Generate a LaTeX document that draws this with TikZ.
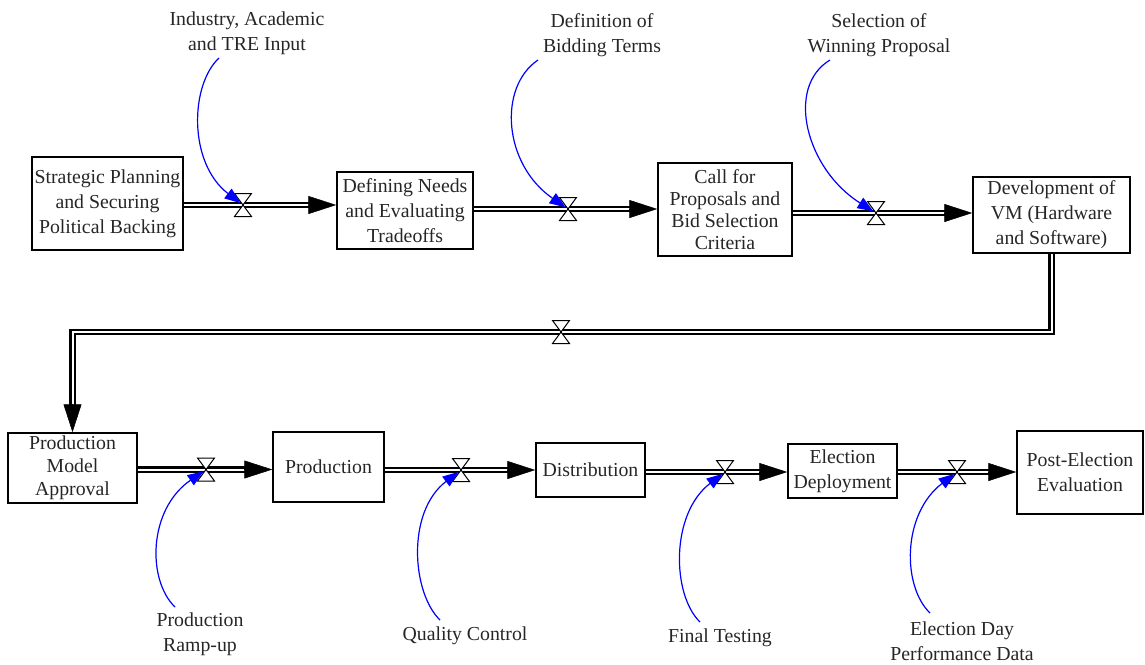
\documentclass[tikz,border=0pt]{standalone}
\usepackage{fontspec}
\setmainfont{LiberationSerif}[Extension=.ttf, UprightFont=*-Regular, BoldFont=*-Bold]
\usetikzlibrary{arrows.meta,calc}
\begin{document}
\begin{tikzpicture}[x=1pt,y=-1pt,
  box/.style={draw, line width=1.5pt, align=center, inner sep=0pt, text=black!85, font=\rmfamily\fontsize{19.8}{25}\selectfont},
  lbl/.style={align=center, inner sep=0pt, text=black!85, font=\rmfamily\fontsize{19.8}{25.5}\selectfont},
  pipe/.style={draw, double=white, double distance=2pt, line width=2.3pt},
  tip/.style={line width=0.5pt, -{Triangle[length=28pt,width=18pt]}},
  infl/.style={draw=blue, line width=1.2pt, -{Triangle[length=16pt,width=12pt]}, shorten >=3pt},
  valve/.pic={\draw[fill=white, line width=1pt] (-8.5,-11.5) -- (8.5,-11.5) -- (-8.5,11.5) -- (8.5,11.5) -- cycle;}
]
\useasboundingbox (0,0) rectangle (1145,664);

% stocks
\node[box, minimum width=151pt, minimum height=93pt] (b1) at (107.5,203.5) {Strategic Planning\\and Securing\\Political Backing};
\node[box, minimum width=136pt, minimum height=77pt] (b2) at (405,210.5) {Defining Needs\\and Evaluating\\Tradeoffs};
\node[box, minimum width=134pt, minimum height=93pt, font=\rmfamily\fontsize{19.8}{22}\selectfont] (b3) at (725,209.5) {Call for\\Proposals and\\Bid Selection\\Criteria};
\node[box, minimum width=157pt, minimum height=76pt] (b4) at (1051.5,215) {Development of\\VM (Hardware\\and Software)};
\node[box, minimum width=129pt, minimum height=70pt, font=\rmfamily\fontsize{19.8}{23}\selectfont] (b5) at (72.5,468) {Production\\Model\\Approval};
\node[box, minimum width=111pt, minimum height=70pt] (b6) at (328.5,467) {Production};
\node[box, minimum width=109pt, minimum height=54pt] (b7) at (590.5,470) {Distribution};
\node[box, minimum width=109pt, minimum height=54pt] (b8) at (842.5,471) {Election\\Deployment};
\node[box, minimum width=126pt, minimum height=83pt] (b9) at (1080,472.5) {Post-Election\\Evaluation};

% valve positions
\coordinate (v1) at (243,205);
\coordinate (v2) at (568,209);
\coordinate (v3) at (876,213);
\coordinate (v4) at (561,332);
\coordinate (v5) at (206,469.5);
\coordinate (v6) at (461,470);
\coordinate (v7) at (725,472);
\coordinate (v8) at (957,472);

% labels
\node[lbl] (l1) at (247,33) {Industry, Academic\\and TRE Input};
\node[lbl] (l2) at (602,35) {Definition of\\Bidding Terms};
\node[lbl] (l3) at (879,35) {Selection of\\Winning Proposal};
\node[lbl] (l4) at (200,634) {Production\\Ramp-up};
\node[lbl] (l5) at (465,636) {Quality Control};
\node[lbl] (l6) at (720,638) {Final Testing};
\node[lbl] (l7) at (962,641) {Election Day\\Performance Data};

% pipes
\draw[pipe] (b1.east|-v1) -- ($(b2.west|-v1)+(-24,0)$);
\draw[tip] ($(b2.west|-v1)+(-28,0)$) -- (b2.west|-v1);
\draw[pipe] (b2.east|-v2) -- ($(b3.west|-v2)+(-24,0)$);
\draw[tip] ($(b3.west|-v2)+(-28,0)$) -- (b3.west|-v2);
\draw[pipe] (b3.east|-v3) -- ($(b4.west|-v3)+(-24,0)$);
\draw[tip] ($(b4.west|-v3)+(-28,0)$) -- (b4.west|-v3);
\draw[pipe] (b4.south) -- (b4.south|-v4) -- (b5.north|-v4) -- ($(b5.north)+(0,-24)$);
\draw[tip] ($(b5.north)+(0,-28)$) -- (b5.north);
\draw[pipe] (b5.east|-v5) -- ($(b6.west|-v5)+(-24,0)$);
\draw[tip] ($(b6.west|-v5)+(-28,0)$) -- (b6.west|-v5);
\draw[pipe] (b6.east|-v6) -- ($(b7.west|-v6)+(-24,0)$);
\draw[tip] ($(b7.west|-v6)+(-28,0)$) -- (b7.west|-v6);
\draw[pipe] (b7.east|-v7) -- ($(b8.west|-v7)+(-24,0)$);
\draw[tip] ($(b8.west|-v7)+(-28,0)$) -- (b8.west|-v7);
\draw[pipe] (b8.east|-v8) -- ($(b9.west|-v8)+(-24,0)$);
\draw[tip] ($(b9.west|-v8)+(-28,0)$) -- (b9.west|-v8);

% valves
\foreach \v in {v1,v2,v3,v4,v5,v6,v7,v8} { \pic at (\v) {valve}; }

% information links
\draw[infl] ($(l1)+(-28,25)$) .. controls +(-29,27) and +(-55,-42) .. (v1);
\draw[infl] ($(l2)+(-64,25)$) .. controls +(-40,27) and +(-65,-45) .. (v2);
\draw[infl] ($(l3)+(-49,25)$) .. controls +(-45,27) and +(-70,-44) .. (v3);
\draw[infl] ($(l4)+(-25,-27)$) .. controls +(-28,-27) and +(-58,40) .. (v5);
\draw[infl] ($(l5)+(-25,-16)$) .. controls +(-28,-27) and +(-55,42) .. (v6);
\draw[infl] ($(l6)+(-20,-16)$) .. controls +(-28,-27) and +(-55,42) .. (v7);
\draw[infl] ($(l7)+(-32,-28)$) .. controls +(-28,-27) and +(-55,42) .. (v8);
\end{tikzpicture}
\end{document}
